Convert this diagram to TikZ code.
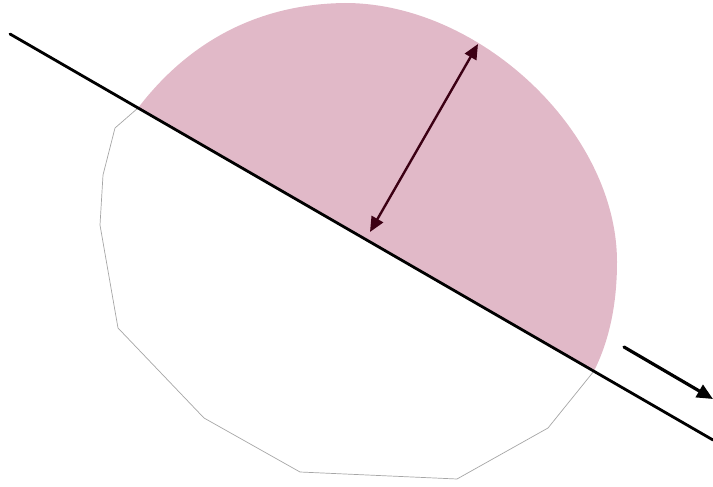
\documentclass[tikz,border=0pt]{standalone}
\usepackage{xcolor}
\usetikzlibrary{arrows.meta}
\definecolor{lobe}{RGB}{225,185,200}
\definecolor{darkrod}{RGB}{60,0,20}

\begin{document}
\begin{tikzpicture}[
 x=1pt,y=-1pt,
 rim/.style={draw=black!35,line width=0.7pt,fill=white},
 cut/.style={line width=2.8pt,line cap=round},
 arr/.style={-{Triangle[length=16pt,width=14pt]},line width=3.2pt,line cap=round},
 darr/.style={{Triangle[length=15pt,width=13pt]}-{Triangle[length=15pt,width=13pt]},line width=2.4pt,draw=darkrod,fill=darkrod}
]
\useasboundingbox (0,0) rectangle (713,487);
% lower piece
\draw[rim] (138,108) -- (115,128) -- (103,175) -- (100,225) -- (118,328)
 -- (204,418) -- (300,472) -- (457,479) -- (548,428) -- (594,371);
% upper piece
\fill[lobe] (138,108) .. controls (190,40) and (260,4) .. (345,3)
 .. controls (480,3) and (617,132) .. (617,262)
 .. controls (617,310) and (607,345) .. (594,371) -- cycle;
\coordinate (lstart) at (10,34);
\coordinate (lend) at (713,440);
\coordinate (dlow) at (370,232);
\coordinate (dhigh) at (478,44);
\coordinate (mstart) at (624,347);
\coordinate (mend) at (713,399);
\draw[cut] (lstart) -- (lend);
\draw[darr] (dlow) -- (dhigh);
\draw[arr] (mstart) -- (mend);
\end{tikzpicture}
\end{document}
